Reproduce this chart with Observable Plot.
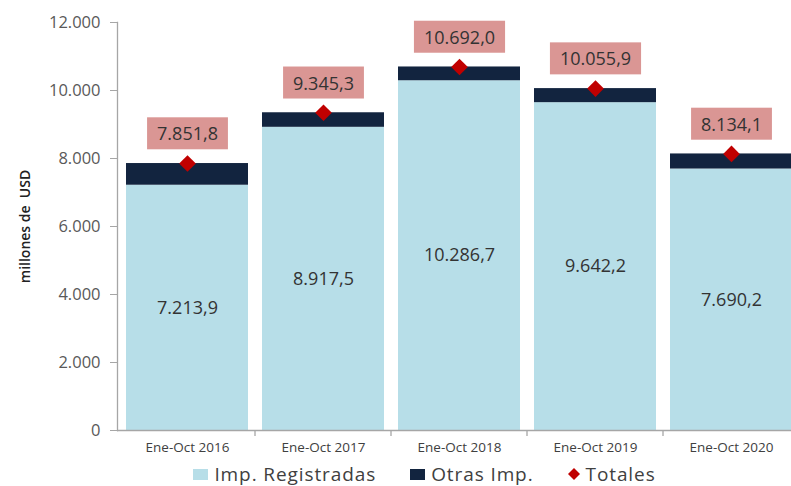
<!DOCTYPE html>
<html><head><meta charset="utf-8">
<script src="https://cdn.jsdelivr.net/npm/d3@7"></script>
<script src="https://cdn.jsdelivr.net/npm/@observablehq/plot@0.6"></script>
<style>
body{margin:0;background:#fff;font-family:"Open Sans",sans-serif;width:791px;}
#chart svg{display:block;}
#legend{display:flex;justify-content:center;align-items:center;padding-left:58px;height:22px;line-height:22px;margin-top:1px;font-size:19px;color:#404040;letter-spacing:0.9px;}
#legend .item{display:flex;align-items:center;margin:0 17px;}
#legend .sw{width:15px;height:11px;margin-right:6px;}
</style></head><body><div id="chart"></div><div id="legend"></div><script>
const periods = ["Ene-Oct 2016","Ene-Oct 2017","Ene-Oct 2018","Ene-Oct 2019","Ene-Oct 2020"];
const registradas = [7213.9, 8917.5, 10286.7, 9642.2, 7690.2];
const totales = [7851.8, 9345.3, 10692.0, 10055.9, 8134.1];
const yTicks = [0, 2000, 4000, 6000, 8000, 10000, 12000];
const seriesNames = ["Imp. Registradas","Otras Imp.","Totales"];
const seriesColors = ["#b7dee8","#12243f","#c00000"];
const yLabel = "millones de  USD";

const locale = d3.formatLocale({decimal:",", thousands:".", grouping:[3], currency:["",""]});
const fmt1 = locale.format(",.1f");
const fmt0 = locale.format(",.0f");

const rows = periods.flatMap((p,i)=>[
  {period:p, serie:seriesNames[0], value:registradas[i]},
  {period:p, serie:seriesNames[1], value:totales[i]-registradas[i]}
]);
const tot = periods.map((p,i)=>({period:p, reg:registradas[i], total:totales[i]}));

const xRange = [117, 802];
const step = (xRange[1]-xRange[0])/5;

const plot = Plot.plot({
  width: 791, height: 462,
  marginLeft: 117, marginRight: 0, marginTop: 22, marginBottom: 32,
  style: {fontFamily: '"Open Sans", sans-serif', background: "white", overflow: "visible"},
  x: {domain: periods, range: xRange, paddingInner: 0.1, paddingOuter: 0.06, label: null},
  y: {domain: [0, 12000], label: null},
  color: {domain: seriesNames.slice(0,2), range: seriesColors.slice(0,2)},
  marks: [
    Plot.barY(rows, {x:"period", y:"value", fill:"serie"}),
    Plot.frame({anchor:"left", stroke:"#a6a6a6", strokeWidth:1.3}),
    Plot.ruleY([0], {stroke:"#a6a6a6", strokeWidth:1.3}),
    Plot.ruleX(periods.slice(1), {x:d=>d, y1:0, y2:0, dx:-step/2, insetBottom:-6, stroke:"#a6a6a6", strokeWidth:1.3}),
    Plot.axisY({ticks: yTicks, tickFormat: fmt0, tickSize: 7, tickPadding: 10, fontSize: 16.5, fill:"#595959", stroke:"#a6a6a6",
      letterSpacing: 0.8, label: yLabel, labelAnchor:"center", labelArrow:"none", labelOffset: 97}),
    Plot.axisX({tickSize: 0, tickPadding: 12, fontSize: 13.5, fill:"#404040", label: null}),
    Plot.text(tot, {x:"period", y:d=>d.reg/2, text:d=>fmt1(d.reg), fontSize:18, fill:"#333", letterSpacing:1.5}),
    Plot.dot(tot, {x:"period", y:"total", symbol:"diamond2", r:7.5, fill:"#c00000", stroke:"none"}),
    Plot.text(tot, {x:"period", y:"total", dy:-29, text:d=>fmt1(d.total), fontSize:18, fill:"#333", letterSpacing:1.5, className:"totlabel"})
  ]
});
document.getElementById("chart").appendChild(plot);

// y label style
plot.querySelectorAll("text").forEach(t=>{
  if (t.textContent === yLabel) {
    t.setAttribute("font-size", "14"); t.setAttribute("fill", "#222");
    t.setAttribute("letter-spacing", "0"); t.setAttribute("font-weight", "600");
  }
});

// pink boxes behind total labels
plot.querySelectorAll(".totlabel text").forEach(t=>{
  const b = t.getBBox();
  const r = document.createElementNS("http://www.w3.org/2000/svg","rect");
  const px = 10, py = 4;
  r.setAttribute("x", b.x - px); r.setAttribute("y", b.y - py);
  r.setAttribute("width", b.width + 2*px); r.setAttribute("height", b.height + 2*py);
  r.setAttribute("fill", "#da9694");
  if (t.getAttribute("transform")) r.setAttribute("transform", t.getAttribute("transform"));
  t.parentNode.insertBefore(r, t);
});

// legend
const lg = document.getElementById("legend");
seriesNames.forEach((name,i)=>{
  const it = document.createElement("div"); it.className = "item";
  if (i < 2) {
    it.innerHTML = `<span class="sw" style="background:${seriesColors[i]}"></span><span>${name}</span>`;
  } else {
    it.innerHTML = `<svg width="12" height="12" style="margin-right:6px"><path d="M6 0L12 6L6 12L0 6Z" fill="${seriesColors[i]}"/></svg><span>${name}</span>`;
  }
  lg.appendChild(it);
});
</script></body></html>
